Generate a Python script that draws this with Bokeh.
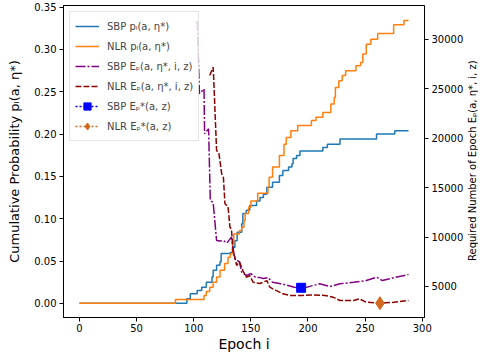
from bokeh.plotting import figure
from bokeh.layouts import row
from bokeh.models import (Range1d, LinearAxis, Legend, LegendItem, FixedTicker,
                          NumeralTickFormatter, Div)
from bokeh.embed import file_html
from bokeh.resources import INLINE

# ---- data ----
sbp_pl_epoch = [0, 94, 97, 103, 107, 111, 116, 117, 120, 123, 124, 132, 134, 136, 138, 142,
                143, 146, 149, 155, 158, 161, 164, 169, 175, 178, 183, 186, 187, 190, 193,
                213, 217, 228, 260, 276, 288]
sbp_pl_value = [0, 0.0055, 0.0114, 0.0153, 0.019, 0.025, 0.031, 0.039, 0.045, 0.049, 0.059,
                0.060, 0.066, 0.074, 0.084, 0.094, 0.106, 0.110, 0.1155, 0.121, 0.125, 0.129,
                0.137, 0.143, 0.151, 0.157, 0.161, 0.165, 0.171, 0.1745, 0.180, 0.184, 0.188,
                0.194, 0.200, 0.204, 0.204]

nlr_pl_epoch = [0, 84, 109, 111, 114, 117, 120, 123, 127, 130, 132, 134, 135, 140, 142, 144,
                145, 148, 150, 156, 165, 166, 169, 175, 179, 181, 185, 191, 203, 207, 213,
                220, 223, 224, 227, 230, 233, 242, 246, 248, 251, 255, 261, 275, 284, 288]
nlr_pl_value = [0, 0.0047, 0.0094, 0.014, 0.019, 0.025, 0.031, 0.039, 0.047, 0.0546, 0.0586,
                0.070, 0.082, 0.086, 0.090, 0.098, 0.106, 0.1135, 0.121, 0.130, 0.137, 0.149,
                0.161, 0.1745, 0.188, 0.196, 0.204, 0.210, 0.216, 0.2197, 0.2255, 0.2355,
                0.243, 0.255, 0.263, 0.269, 0.2747, 0.2806, 0.2845, 0.2944, 0.306, 0.312,
                0.3187, 0.329, 0.334, 0.334]

sbp_ep_epoch = [103, 105, 109, 109.5, 113, 114.5, 117, 120, 123, 126, 129, 133, 134.5, 136,
                140, 142, 146, 150, 154, 158, 161, 165, 169, 175, 181, 188, 194, 200, 210,
                219, 228, 240, 251, 260, 265, 277, 288]
sbp_ep_value = [31900, 24500, 25000, 20450, 20960, 13700, 13500, 9650, 9600, 9650, 9400, 10000,
                8800, 7800, 7500, 6450, 6110, 6300, 5940, 5900, 5800, 5900, 5430, 5300, 5150,
                4930, 4870, 4960, 5270, 5000, 5270, 5440, 5600, 5940, 5600, 5940, 6210]

nlr_ep_epoch = [114, 117, 117.5, 120, 122, 124.5, 126, 127.3, 130, 131.7, 133, 134.6, 136,
                137.5, 140, 143, 146, 149, 152, 158, 164, 166.6, 172, 178, 184, 195, 203,
                215, 222, 228, 240, 245, 251, 263, 268, 275, 288]
nlr_ep_value = [26350, 27200, 26000, 18760, 18500, 16400, 16000, 13370, 13100, 11000, 10800,
                8300, 8000, 7130, 7500, 6620, 5940, 6100, 5430, 5300, 5600, 4930, 4600, 4260,
                4090, 4090, 4150, 4090, 3920, 3580, 3580, 3750, 3410, 3310, 3350, 3400, 3580]

sbp_best_epoch = [194]
sbp_best_value = [4870]
nlr_best_epoch = [263]
nlr_best_value = [3310]

x_ticks = [0, 50, 100, 150, 200, 250, 300]
left_ticks = [0.0, 0.05, 0.10, 0.15, 0.20, 0.25, 0.30, 0.35]
right_ticks = [5000, 10000, 15000, 20000, 25000, 30000]

X0, X1 = -14, 302
EP0, EP1 = 1862, 33441

# ---- figure ----
FONT = "DejaVu Sans"
p = figure(width=466, height=360, output_backend="svg", toolbar_location=None,
           x_range=Range1d(X0, X1), y_range=Range1d(-0.0167, 0.3518),
           min_border_left=63, min_border_right=41, min_border_top=5, min_border_bottom=43)
p.extra_y_ranges = {"ep": Range1d(EP0, EP1)}
p.grid.visible = False
p.outline_line_color = "black"
p.outline_line_width = 1
p.background_fill_color = "white"
p.border_fill_color = "white"

def style_axis(ax):
    ax.major_label_text_font = FONT
    ax.major_label_text_font_size = "10px"
    ax.major_label_text_color = "black"
    ax.axis_label_text_font = FONT
    ax.axis_label_text_font_style = "normal"
    ax.axis_label_text_color = "black"
    ax.minor_tick_line_color = None
    ax.major_tick_out = 4
    ax.major_tick_in = 0
    ax.major_label_standoff = 3
    ax.axis_line_color = "black"
    ax.major_tick_line_color = "black"

xa = p.xaxis[0]
style_axis(xa)
xa.ticker = FixedTicker(ticks=x_ticks)
xa.axis_label = "Epoch i"
xa.axis_label_text_font_size = "14px"
xa.axis_label_standoff = 1
xa.major_label_standoff = 2

ya = p.yaxis[0]
style_axis(ya)
ya.ticker = FixedTicker(ticks=left_ticks)
ya.formatter = NumeralTickFormatter(format="0.00")
ya.axis_label = "Cumulative Probability pₗ(a, η*)"
ya.axis_label_text_font_size = "13px"
ya.axis_label_standoff = 9

ra = LinearAxis(y_range_name="ep")
style_axis(ra)
ra.ticker = FixedTicker(ticks=right_ticks)
p.add_layout(ra, "right")

# ---- glyphs ----
r_sbp_pl = p.step(sbp_pl_epoch, sbp_pl_value, mode="after", line_color="#1f77b4", line_width=1.5)
r_nlr_pl = p.step(nlr_pl_epoch, nlr_pl_value, mode="after", line_color="#ff7f0e", line_width=1.5)
r_sbp_ep = p.line(sbp_ep_epoch, sbp_ep_value, y_range_name="ep", line_color="purple",
                  line_width=1.5, line_dash="10 2 2 2")
r_nlr_ep = p.line(nlr_ep_epoch, nlr_ep_value, y_range_name="ep", line_color="#8b0000",
                  line_width=1.5, line_dash="6 2")
r_sbp_best_l = p.line(sbp_best_epoch, sbp_best_value, y_range_name="ep", line_color="blue",
                      line_width=1.5, line_dash="2 2")
r_sbp_best = p.scatter(sbp_best_epoch, sbp_best_value, y_range_name="ep", marker="square",
                       size=9, fill_color="blue", line_color="blue")
r_nlr_best_l = p.line(nlr_best_epoch, nlr_best_value, y_range_name="ep", line_color="chocolate",
                      line_width=1.5, line_dash="2 2")
r_nlr_best = p.scatter(nlr_best_epoch, nlr_best_value, y_range_name="ep", marker="diamond",
                       size=13, fill_color="chocolate", line_color="chocolate")

legend = Legend(items=[
    LegendItem(label="SBP pₗ(a, η*)", renderers=[r_sbp_pl]),
    LegendItem(label="NLR pₗ(a, η*)", renderers=[r_nlr_pl]),
    LegendItem(label="SBP Eₚ(a, η*, i, z)", renderers=[r_sbp_ep]),
    LegendItem(label="NLR Eₚ(a, η*, i, z)", renderers=[r_nlr_ep]),
    LegendItem(label="SBP Eₚ*(a, z)", renderers=[r_sbp_best_l, r_sbp_best]),
    LegendItem(label="NLR Eₚ*(a, z)", renderers=[r_nlr_best_l, r_nlr_best]),
], location="top_left")
legend.label_text_font = FONT
legend.label_text_font_size = "10px"
legend.glyph_width = 24
legend.glyph_height = 18
legend.label_height = 18
legend.spacing = 2
legend.padding = 5
legend.margin = 6
legend.label_standoff = 8
legend.border_line_color = "#cccccc"
legend.border_line_width = 1
legend.background_fill_alpha = 0.8
p.add_layout(legend, "center")

# right-axis title (reads bottom-to-top, like the reference)
right_title = Div(text="Required Number of Epoch Eₚ(a, η*, i, z)", width=14, height=322,
                  margin=(0, 0, 0, 0),
                  styles={"writing-mode": "vertical-rl", "transform": "rotate(180deg)",
                          "font-family": "DejaVu Sans", "font-size": "10px",
                          "text-align": "center", "line-height": "14px",
                          "color": "black", "white-space": "nowrap"})

layout = row(p, right_title, spacing=0)
open("out.html", "w").write(file_html(layout, INLINE))
